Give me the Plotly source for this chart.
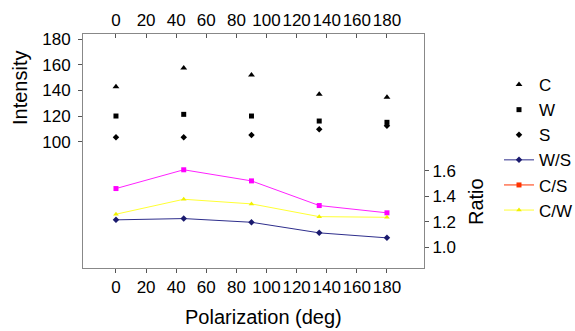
import plotly.graph_objects as go

angles = [0, 45, 90, 135, 180]
C = [142.8, 157.4, 151.9, 136.9, 134.6]
W = [120.0, 121.3, 120.0, 116.1, 115.1]
S = [103.4, 103.4, 105.2, 109.7, 112.5]
WS = [1.215, 1.225, 1.196, 1.113, 1.074]
CS = [1.46, 1.607, 1.52, 1.327, 1.27]
CW = [1.259, 1.376, 1.34, 1.24, 1.235]

x_ticks = [0, 20, 40, 60, 80, 100, 120, 140, 160, 180]
int_ticks = [100, 120, 140, 160, 180]
ratio_ticks = [1.0, 1.2, 1.4, 1.6]
ratio_tick_text = ["1.0", "1.2", "1.4", "1.6"]

FONT = "Liberation Sans, Arial, sans-serif"
fig = go.Figure()

fig.add_trace(go.Scatter(x=angles, y=C, name="C", mode="markers",
                         marker=dict(symbol="triangle-up", size=6, color="black")))
fig.add_trace(go.Scatter(x=angles, y=W, name="W", mode="markers",
                         marker=dict(symbol="square", size=5, color="black")))
fig.add_trace(go.Scatter(x=angles, y=S, name="S", mode="markers",
                         marker=dict(symbol="diamond", size=5, color="black")))
fig.add_trace(go.Scatter(x=angles, y=WS, name="W/S", mode="lines+markers", yaxis="y2",
                         line=dict(color="#2e2e8c", width=1),
                         marker=dict(symbol="diamond", size=5, color="#1a1a6e")))
fig.add_trace(go.Scatter(x=angles, y=CS, name="C/S", mode="lines+markers", yaxis="y2",
                         line=dict(color="#ff22ff", width=1), showlegend=False,
                         marker=dict(symbol="square", size=5, color="#ff00ff")))
fig.add_trace(go.Scatter(x=[None], y=[None], name="C/S", mode="lines+markers", yaxis="y2",
                         line=dict(color="#ff3300", width=1),
                         marker=dict(symbol="square", size=5, color="#ff3300")))
fig.add_trace(go.Scatter(x=angles, y=CW, name="C/W", mode="lines+markers", yaxis="y2",
                         line=dict(color="#ffff33", width=1),
                         marker=dict(symbol="triangle-up", size=5, color="#f0f000")))
# invisible trace to carry the top axis
fig.add_trace(go.Scatter(x=[None], y=[None], xaxis="x2", showlegend=False, hoverinfo="skip"))

L, R, T, B = 83, 151, 34, 63
W_PLOT = 575 - L - R
H_PLOT = 331 - T - B


def px2paper(px, py):
    return (px - L) / W_PLOT, (331 - B - py) / H_PLOT


XR = [-21.9, 204.6]
axis_common = dict(showgrid=False, zeroline=False, showline=True, linecolor="#888",
                   linewidth=1, tickcolor="#555", ticklen=4, tickfont=dict(size=17),
                   tickangle=0, automargin=False)
lx, ly = px2paper(499, 67)

ann = []
for text, px, py, ang in [("Intensity", 20, 88, -90), ("Ratio", 476, 202, -90),
                          ("Polarization (deg)", 263, 317, 0)]:
    ax_, ay_ = px2paper(px, py)
    ann.append(dict(text=text, x=ax_, y=ay_, xref="paper", yref="paper", showarrow=False,
                    xanchor="center", yanchor="middle", textangle=ang, font=dict(size=20)))

fig.update_layout(
    width=575, height=331,
    margin=dict(l=L, r=R, t=T, b=B, autoexpand=False),
    paper_bgcolor="white", plot_bgcolor="white",
    font=dict(family=FONT, size=16, color="black"),
    showlegend=True,
    legend=dict(x=lx, y=ly, xanchor="left", yanchor="top",
                font=dict(size=17), itemwidth=30, bgcolor="rgba(0,0,0,0)",
                tracegroupgap=0),
    xaxis=dict(range=XR, tickvals=x_ticks, ticks="outside", **axis_common),
    xaxis2=dict(range=XR, tickvals=x_ticks, overlaying="x", side="top", ticks="inside",
                anchor="y", **axis_common),
    yaxis=dict(range=[1.6, 183.9], tickvals=int_ticks, ticks="outside",
               ticklabelstandoff=4, **axis_common),
    yaxis2=dict(range=[0.838, 2.67], tickvals=ratio_ticks, ticktext=ratio_tick_text,
                overlaying="y", side="right", ticks="outside", **axis_common),
    annotations=ann,
)

fig.write_html("out.html", config={"displayModeBar": False},
               post_script="document.body.style.margin='0';document.body.style.overflow='hidden';")
